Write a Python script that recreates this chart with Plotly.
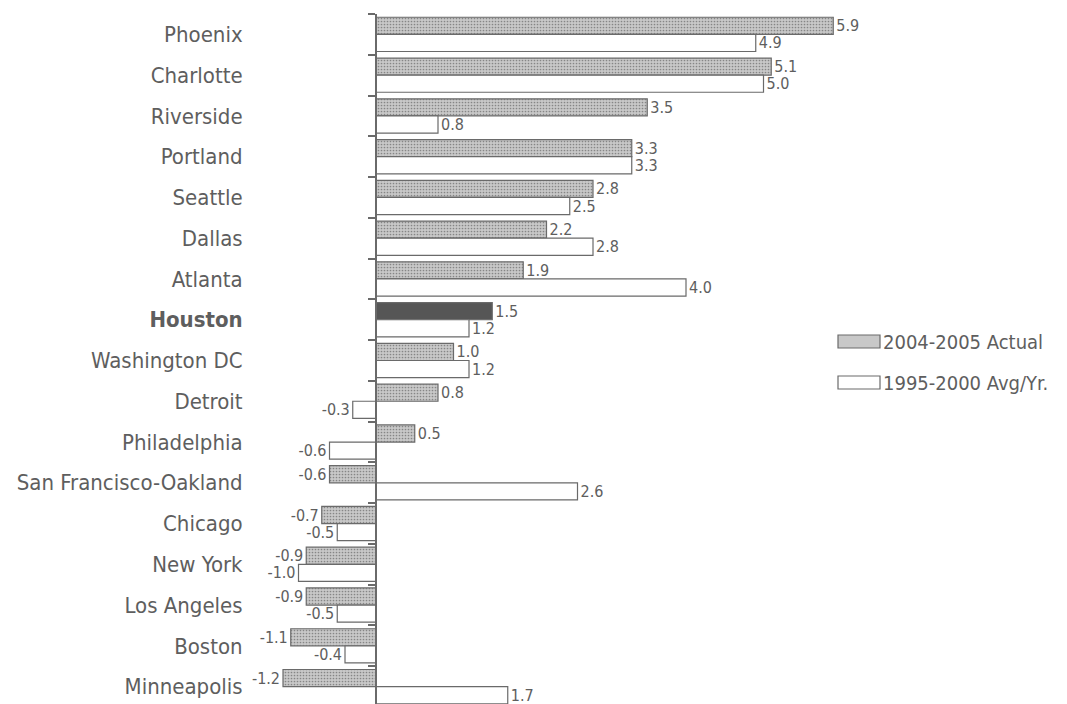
import plotly.graph_objects as go

cities = ["Phoenix", "Charlotte", "Riverside", "Portland", "Seattle", "Dallas", "Atlanta",
          "Houston", "Washington DC", "Detroit", "Philadelphia", "San Francisco-Oakland",
          "Chicago", "New York", "Los Angeles", "Boston", "Minneapolis"]
actual_0405 = [5.9, 5.1, 3.5, 3.3, 2.8, 2.2, 1.9, 1.5, 1.0, 0.8, 0.5, -0.6, -0.7, -0.9, -0.9, -1.1, -1.2]
avg_9500 = [4.9, 5.0, 0.8, 3.3, 2.5, 2.8, 4.0, 1.2, 1.2, -0.3, -0.6, 2.6, -0.5, -1.0, -0.5, -0.4, 1.7]
series_names = ["2004-2005 Actual", "1995-2000 Avg/Yr."]
highlight = "Houston"

W, H = 1067, 704
MT, MB = 6, 5
zero_px = 368
px_per_unit = 77.5
x_min = -zero_px / px_per_unit
x_max = (W - zero_px) / px_per_unit
plot_h = H - MT - MB

FONT = "DejaVu Sans Condensed, Liberation Sans Narrow, sans-serif"
TXT = "#5e5e5e"
EDGE = "#6a6a6a"
GRAY = "#c8c8c8"

gray_colors = ["#565656" if c == highlight else GRAY for c in cities]
gray_shapes = ["" if c == highlight else "." for c in cities]
pattern = dict(shape=gray_shapes, fillmode="overlay", fgcolor="#b0b0b0", size=3, solidity=0.25)

fig = go.Figure()
fig.add_trace(go.Bar(
    y=cities, x=actual_0405, orientation="h", name=series_names[0], showlegend=False,
    marker=dict(color=gray_colors, line=dict(color=EDGE, width=1.2), pattern=pattern),
    text=[f"{v:.1f}" for v in actual_0405], textposition="outside",
    textfont=dict(family=FONT, size=16, color=TXT), cliponaxis=False,
    constraintext="none",
))
fig.add_trace(go.Bar(
    y=cities, x=avg_9500, orientation="h", name=series_names[1], showlegend=False,
    marker=dict(color="white", line=dict(color=EDGE, width=1.2)),
    text=[f"{v:.1f}" for v in avg_9500], textposition="outside",
    textfont=dict(family=FONT, size=16, color=TXT), cliponaxis=False,
    constraintext="none",
))

ticktext = [f"<b>{c}</b>" if c == highlight else c for c in cities]


def px_x(p):
    return p / W


def px_y(p):
    return 1 - (p - MT) / plot_h


# custom legend with wide swatches (layout decoration, paper coords)
legend_rows = [(327, GRAY), (368, "white")]
shapes = []
annotations = []
for (top, fill), name in zip(legend_rows, series_names):
    shapes.append(dict(
        type="rect", xref="paper", yref="paper",
        x0=px_x(830), x1=px_x(872), y0=px_y(top), y1=px_y(top + 13),
        fillcolor=fill, line=dict(color=EDGE, width=1.2), layer="above",
    ))
    annotations.append(dict(
        xref="paper", yref="paper", x=px_x(873), y=px_y(top + 6.5),
        xanchor="left", yanchor="middle", showarrow=False, text=name,
        font=dict(family=FONT, size=20, color=TXT),
    ))

fig.update_layout(
    width=W, height=H,
    margin=dict(l=0, r=0, t=MT, b=MB, autoexpand=False),
    paper_bgcolor="white", plot_bgcolor="white",
    barmode="group", bargap=0.16, bargroupgap=0,
    font=dict(family=FONT, size=22, color=TXT),
    xaxis=dict(range=[x_min, x_max], visible=False, domain=[0, 1]),
    yaxis=dict(
        categoryorder="array", categoryarray=cities, autorange="reversed",
        anchor="free", position=zero_px / W,
        showline=True, linecolor=EDGE, linewidth=2,
        ticks="outside", ticklen=7, tickcolor=EDGE, tickwidth=1.5,
        tickson="boundaries", tickmode="array", tickvals=cities, ticktext=ticktext,
        ticklabelstandoff=128, tickfont=dict(family=FONT, size=22, color=TXT),
        showgrid=False, zeroline=False, automargin=False,
    ),
    shapes=shapes, annotations=annotations,
    showlegend=False,
)

fig.write_html("out.html")
